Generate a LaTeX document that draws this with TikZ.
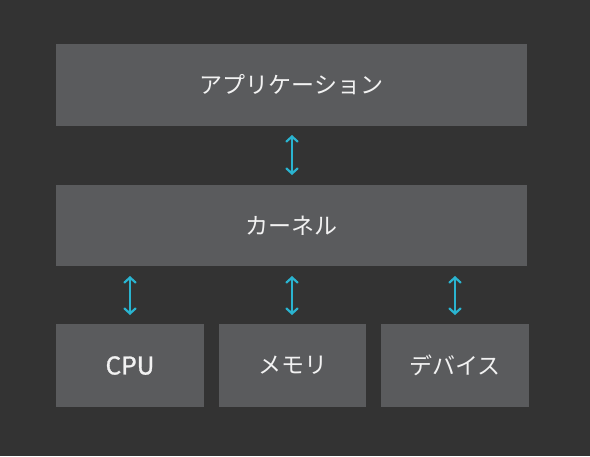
\documentclass[tikz,border=0pt]{standalone}
\usepackage{fontspec}
\setmainfont{Noto Sans CJK JP}
\newfontfamily\cpufont{Noto Sans CJK JP}[FakeBold=1.2]
\usetikzlibrary{arrows.meta}
\definecolor{bgc}{HTML}{333333}
\definecolor{boxc}{HTML}{5A5B5D}
\definecolor{txtc}{HTML}{F2F2F2}
\definecolor{arrc}{HTML}{2AB4D0}
\tikzset{
  layer/.style={fill=boxc, draw=none, inner sep=0pt, font=\fontsize{23}{26}\selectfont, text=txtc},
  link/.style={draw=arrc, line width=2.2pt, line cap=round,
    {Straight Barb[length=5pt,width=11pt,line cap=round]}-{Straight Barb[length=5pt,width=11pt,line cap=round]}}
}
\begin{document}
\begin{tikzpicture}[x=1pt,y=-1pt]
\fill[bgc] (0,0) rectangle (590,456);
\useasboundingbox (0,0) rectangle (590,456);
\node[layer, minimum width=471pt, minimum height=82pt] (app) at (291.5,85) {アプリケーション};
\node[layer, minimum width=471pt, minimum height=81pt] (kern) at (291.5,225.5) {カーネル};
\node[layer, minimum width=148pt, minimum height=83pt] (cpu) at (130,365.5) {\cpufont\fontsize{24.5}{27}\selectfont CPU};
\node[layer, minimum width=147pt, minimum height=83pt] (mem) at (292.5,365.5) {メモリ};
\node[layer, minimum width=148pt, minimum height=83pt] (dev) at (455,365.5) {デバイス};
\coordinate (a1) at (292,135);
\coordinate (a2) at (292,175);
\coordinate (c1) at (130,276);
\coordinate (c2) at (130,315);
\coordinate (m1) at (292,276);
\coordinate (m2) at (292,315);
\coordinate (d1) at (455,276);
\coordinate (d2) at (455,315);
\draw[link] (a1) -- (a2);
\draw[link] (c1) -- (c2);
\draw[link] (m1) -- (m2);
\draw[link] (d1) -- (d2);
\end{tikzpicture}
\end{document}
